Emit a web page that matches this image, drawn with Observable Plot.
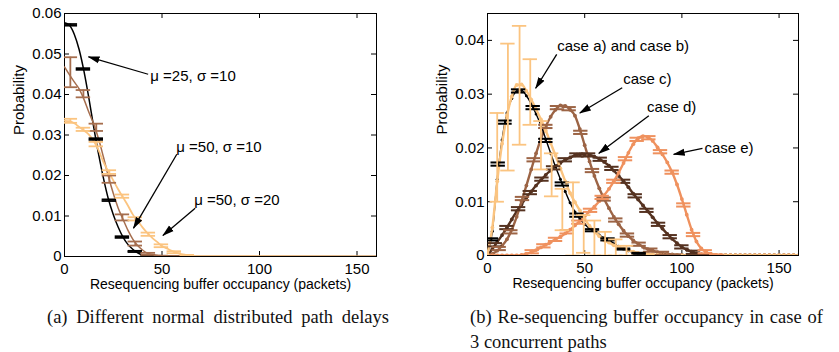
<!DOCTYPE html>
<html><head><meta charset="utf-8">
<script src="https://cdn.jsdelivr.net/npm/d3@7"></script>
<script src="https://cdn.jsdelivr.net/npm/@observablehq/plot@0.6"></script>
<style>
body{margin:0;background:#fff;}
#wrap{position:relative;width:839px;height:352px;overflow:hidden;background:#fff;}
#left{position:absolute;left:0;top:0;}
#right{position:absolute;left:420px;top:0;}
.cap{position:absolute;font-family:"Liberation Serif","Times New Roman",serif;font-size:18.5px;line-height:22px;color:#111;white-space:nowrap;}
.just{text-align:justify;text-align-last:justify;}
</style>
</head><body>
<div id="wrap">
  <div id="left"></div>
  <div id="right"></div>
  <div class="cap just" style="left:47px;top:306px;width:342px;">(a) Different normal distributed path delays</div>
  <div class="cap just" style="left:470px;top:306px;width:353px;">(b) Re-sequencing buffer occupancy in case of</div>
  <div class="cap" style="left:470px;top:331px;">3 concurrent paths</div>
</div>
<script>
// ---------- shared axis text ----------
const xTicks = [0, 50, 100, 150];
const xTickLabels = ["0", "50", "100", "150"];
const leftYTicks = [0, 0.01, 0.02, 0.03, 0.04, 0.05, 0.06];
const leftYTickLabels = ["0", "0.01", "0.02", "0.03", "0.04", "0.05", "0.06"];
const rightYTicks = [0, 0.01, 0.02, 0.03, 0.04];
const rightYTickLabels = ["0", "0.01", "0.02", "0.03", "0.04"];
const xLabel = "Resequencing buffer occupancy (packets)";
const yLabel = "Probability";

// ---------- panel (a) ----------
const leftX = [0,2.5,5,7.5,10,12.5,15,17.5,20,22.5,25,27.5,30,32.5,35,37.5,40,42.5,45,47.5,50,52.5,55,57.5,60,62.5,65,67.5,70,160];
const leftMu25s10 = [0.0577,0.0571,0.0549,0.0511,0.0457,0.0391,0.0319,0.0252,0.0193,0.0142,0.0104,0.0073,0.0048,0.0030,0.0018,0.0009,0.0004,0.0002,0.0001,0,0,0,0,0,0,0,0,0,0,0];
const leftMu50s10 = [0.0468,0.0449,0.0431,0.0414,0.0388,0.0356,0.0327,0.0290,0.0245,0.0198,0.0156,0.0120,0.0092,0.0065,0.0043,0.0027,0.0016,0.0008,0.0005,0.0003,0.0002,0.0001,0,0,0,0,0,0,0,0];
const leftMu50s20 = [0.0335,0.0334,0.0329,0.0320,0.0311,0.0301,0.0285,0.0262,0.0233,0.0210,0.0188,0.0166,0.0146,0.0126,0.0104,0.0088,0.0072,0.0058,0.0046,0.0036,0.0026,0.0020,0.0014,0.0009,0.0006,0.0004,0.0002,0.0001,0.0001,0];

const leftBarX = [3, 9.7, 16.3, 23, 29.7, 36.3, 43, 49.7, 56.3, 63];
const leftMu25s10Lo = [0.0570,0.0461,0.0288,0.0137,0.0046,0.0011,0.0002,0.0000,0,0];
const leftMu25s10Hi = [0.0574,0.0465,0.0292,0.0141,0.0050,0.0014,0.0003,0.0001,0,0];
const leftMu50s10Lo = [0.0418,0.0393,0.0310,0.0182,0.0089,0.0027,0.0004,0.0000,0,0];
const leftMu50s10Hi = [0.0492,0.0411,0.0328,0.0200,0.0104,0.0037,0.0009,0.0002,0.0001,0];
const leftMu50s20Lo = [0.0330,0.0310,0.0272,0.0204,0.0145,0.0089,0.0051,0.0023,0.0008,0.0002];
const leftMu50s20Hi = [0.0340,0.0318,0.0283,0.0213,0.0153,0.0097,0.0059,0.0030,0.0013,0.0004];

const leftNoteText = ["\u03bc =25, \u03c3 =10", "\u03bc =50, \u03c3 =10", "\u03bc =50, \u03c3 =20"];
const leftNoteX = [44, 57.3, 66.5];
const leftNoteY = [0.0446, 0.0270, 0.0139];
const leftArrowFrom = [[42.9, 0.0450], [57.6, 0.02525], [67, 0.0119]];
const leftArrowTo = [[12.3, 0.0493], [35.4, 0.0070], [50.5, 0.0052]];

// ---------- panel (b) ----------
const rightX = [0,2.5,5,7.5,10,12.5,15,17.5,20,22.5,25,27.5,30,32.5,35,37.5,40,42.5,45,47.5,50,52.5,55,57.5,60,62.5,65,67.5,70,72.5,75,77.5,80,82.5,85,87.5,90,92.5,95,97.5,100,102.5,105,107.5,110,112.5,115,117.5,120,122.5,125,127.5,130,132.5,135,137.5,140,142.5,145,147.5,150,152.5,155,157.5,160];
const caseA = [0.0003,0.0045,0.0142,0.0215,0.0265,0.0292,0.0305,0.0307,0.0297,0.0282,0.0263,0.0242,0.0216,0.0190,0.0165,0.0142,0.0119,0.0098,0.0081,0.0068,0.0058,0.0050,0.0044,0.0038,0.0033,0.0029,0.0022,0.0017,0.0012,0.0009,0.0006,0.0004,0.0003,0.0002,0.0002,0.0001,0.0001,0,0,0,0,0,0,0,0,0,0,0,0,0,0,0,0,0,0,0,0,0,0,0,0,0,0,0,0];
const caseB = [0.0003,0.0052,0.0138,0.0208,0.0260,0.0296,0.0317,0.0318,0.0306,0.0290,0.0272,0.0253,0.0232,0.0209,0.0186,0.0162,0.0138,0.0116,0.0099,0.0084,0.0068,0.0055,0.0045,0.0036,0.0028,0.0024,0.0019,0.0016,0.0013,0.0010,0.0007,0.0005,0.0004,0.0003,0.0002,0.0001,0.0001,0,0,0,0,0,0,0,0,0,0,0,0,0,0,0,0,0,0,0,0,0,0,0,0,0,0,0,0];
const caseC = [0,0.0003,0.0009,0.0018,0.0030,0.0048,0.0072,0.0100,0.0130,0.0160,0.0190,0.0217,0.0240,0.0258,0.0271,0.0279,0.0278,0.0271,0.0260,0.0235,0.0205,0.0175,0.0148,0.0125,0.0105,0.0088,0.0072,0.0058,0.0046,0.0036,0.0028,0.0022,0.0016,0.0012,0.0009,0.0006,0.0004,0.0003,0.0002,0.0001,0.0001,0,0,0,0,0,0,0,0,0,0,0,0,0,0,0,0,0,0,0,0,0,0,0,0];
const caseD = [0,0.0012,0.0025,0.0038,0.0052,0.0067,0.0082,0.0095,0.0108,0.0119,0.0130,0.0140,0.0150,0.0158,0.0166,0.0172,0.0178,0.0182,0.0186,0.0188,0.0188,0.0187,0.0184,0.0180,0.0174,0.0167,0.0158,0.0148,0.0138,0.0127,0.0115,0.0104,0.0093,0.0082,0.0071,0.0060,0.0050,0.0040,0.0031,0.0023,0.0016,0.0011,0.0007,0.0004,0.0002,0.0001,0,0,0,0,0,0,0,0,0,0,0,0,0,0,0,0,0,0,0];
const caseE = [0,0,0,0,0,0,0,0.0001,0.0003,0.0006,0.0010,0.0015,0.0020,0.0025,0.0030,0.0035,0.0041,0.0048,0.0056,0.0064,0.0073,0.0082,0.0091,0.0101,0.0112,0.0124,0.0138,0.0154,0.0172,0.0191,0.0207,0.0218,0.0222,0.0220,0.0213,0.0201,0.0188,0.0173,0.0155,0.0132,0.0105,0.0076,0.0048,0.0026,0.0013,0.0006,0.0003,0.0001,0,0,0,0,0,0,0,0,0,0,0,0,0,0,0,0,0];

const caseABarX = [2, 5.5, 9, 16, 23.5, 30, 38.5, 46, 54, 62, 70, 78];
const caseABarLo = [0.0028,0.0167,0.0245,0.0303,0.0272,0.0211,0.0130,0.0072,0.0045,0.0028,0.0011,0.0003];
const caseABarHi = [0.0032,0.0173,0.0251,0.0309,0.0278,0.0217,0.0136,0.0078,0.0049,0.0032,0.0013,0.0005];
const caseBBarX = [5, 10.5, 16.5, 22, 27.5, 33, 38.5, 44, 49.5, 55, 60.5, 66, 71.5];
const caseBBarLo = [0.0100,0.0158,0.0206,0.0243,0.0160,0.0110,0.0047,0.0000,0.0005,0.0000,0.0000,0.0000,0.0000];
const caseBBarHi = [0.0265,0.0394,0.0427,0.0365,0.0250,0.0190,0.0124,0.0136,0.0075,0.0065,0.0044,0.0030,0.0018];
const caseCBarX = [6,12,18,24,30,36,42,48,54,60,66,72,78,84,90,96];
const caseCBarLo = [0.0010,0.0041,0.0103,0.0175,0.0237,0.0272,0.0270,0.0226,0.0155,0.0102,0.0063,0.0035,0.0018,0.0007,0.0001,0.0000];
const caseCBarHi = [0.0016,0.0047,0.0109,0.0181,0.0243,0.0278,0.0276,0.0232,0.0161,0.0108,0.0069,0.0041,0.0024,0.0013,0.0007,0.0002];
const caseDBarX = [4,10,16,22,28,34,40,46,52,58,64,70,76,82,88,94,100,106,112];
const caseDBarLo = [0.0017,0.0049,0.0084,0.0114,0.0139,0.0160,0.0175,0.0184,0.0184,0.0176,0.0159,0.0135,0.0108,0.0081,0.0055,0.0032,0.0013,0.0003,0.0000];
const caseDBarHi = [0.0023,0.0055,0.0090,0.0120,0.0145,0.0166,0.0181,0.0190,0.0190,0.0182,0.0165,0.0141,0.0114,0.0087,0.0061,0.0038,0.0019,0.0009,0.0002];
const caseEBarX = [23,29,35,41,47,53,59,65,71,77,83,89,95,101,106,112,118];
const caseEBarLo = [0.0004,0.0015,0.0027,0.0041,0.0059,0.0081,0.0105,0.0135,0.0177,0.0213,0.0216,0.0190,0.0152,0.0091,0.0036,0.0004,0.0000];
const caseEBarHi = [0.0010,0.0021,0.0033,0.0047,0.0065,0.0087,0.0111,0.0141,0.0183,0.0219,0.0222,0.0196,0.0158,0.0097,0.0042,0.0010,0.0002];

const rightNoteText = ["case a) and case b)", "case c)", "case d)", "case e)"];
const rightNoteX = [35.9, 69.8, 82.1, 111.6];
const rightNoteY = [0.0389, 0.0328, 0.0275, 0.0200];
const rightArrowFrom = [[35.6, 0.0374], [69.3, 0.0312], [83, 0.0260], [110.6, 0.0199]];
const rightArrowTo = [[24.8, 0.0311], [47.5, 0.0265], [57.3, 0.0190], [95.8, 0.0188]];

// ---------- colours ----------
const cBlack = "#000000";
const cBrownL = "#a66e4e";
const cPale = "#fbc480";
const cBrownC = "#9c6445";
const cDark = "#553220";
const cSalmon = "#ef915e";

// ---------- helpers ----------
const FONT = "'Liberation Sans', Arial, Helvetica, sans-serif";
function series(xs, ys) { return xs.map((x, i) => ({x, y: ys[i]})); }
function bars(xs, lo, hi, color, hw, sw) {
  const rows = xs.map((x, i) => ({x, lo: lo[i], hi: hi[i]}));
  return [
    Plot.ruleX(rows, {x: "x", y1: "lo", y2: "hi", stroke: color, strokeWidth: sw, clip: true}),
    Plot.ruleY(rows, {y: "lo", x1: d => d.x - hw, x2: d => d.x + hw, stroke: color, strokeWidth: sw, clip: true}),
    Plot.ruleY(rows, {y: "hi", x1: d => d.x - hw, x2: d => d.x + hw, stroke: color, strokeWidth: sw, clip: true})
  ];
}
function notes(texts, xs, ys, from, to) {
  const rows = texts.map((t, i) => ({t, x: xs[i], y: ys[i], x1: from[i][0], y1: from[i][1], x2: to[i][0], y2: to[i][1]}));
  return [
    Plot.link(rows, {x1: "x1", y1: "y1", x2: "x2", y2: "y2", stroke: "black", strokeWidth: 1.3, markerEnd: "arrow"}),
    Plot.text(rows, {x: "x", y: "y", text: "t", textAnchor: "start", lineAnchor: "middle", fontSize: 15, fill: "black"})
  ];
}
function frameAndAxes(yTicks, yLabels, iw, ih) {
  return [
    Plot.frame({stroke: "black", strokeWidth: 1}),
    Plot.tickX(xTicks, {x: d => d, insetTop: ih - 5, stroke: "black"}),
    Plot.tickX(xTicks, {x: d => d, insetBottom: ih - 5, stroke: "black"}),
    Plot.tickY(yTicks, {y: d => d, insetRight: iw - 5, stroke: "black"}),
    Plot.tickY(yTicks, {y: d => d, insetLeft: iw - 5, stroke: "black"}),
    Plot.axisX({ticks: xTicks, tickSize: 0, tickPadding: 7, fontSize: 15, label: null,
      tickFormat: d => xTickLabels[xTicks.indexOf(d)]}),
    Plot.axisY({ticks: yTicks, tickSize: 0, tickPadding: 3, fontSize: 15, label: null,
      tickFormat: d => yLabels[yTicks.indexOf(d)]}),
    Plot.text([xLabel], {text: d => d, frameAnchor: "bottom", dy: 28, fontSize: 14, lineAnchor: "middle"}),
    Plot.text([yLabel], {text: d => d, frameAnchor: "left", dx: -45, rotate: -90, fontSize: 15, lineAnchor: "middle"})
  ];
}
function fixMarkers(svg) {
  svg.querySelectorAll("marker").forEach(m => {
    const s = d3.select(m);
    s.attr("viewBox", "-11 -5 12 10").attr("markerUnits", "userSpaceOnUse")
     .attr("markerWidth", 12).attr("markerHeight", 10)
     .attr("fill", "black").attr("stroke", "none");
    s.selectAll("*").remove();
    s.append("path").attr("d", "M-11,-3.6L1,0L-11,3.6Z");
  });
}

// ---------- panel (a) ----------
const LW = 420, LH = 300, LML = 64, LMR = 44, LMT = 13, LMB = 44;
const leftPlot = Plot.plot({
  width: LW, height: LH,
  marginLeft: LML, marginRight: LMR, marginTop: LMT, marginBottom: LMB,
  x: {domain: [0, 160], axis: null},
  y: {domain: [0, 0.06], axis: null},
  style: {fontFamily: FONT, fontSize: "15px", color: "black", background: "transparent", overflow: "visible"},
  marks: [
    ...frameAndAxes(leftYTicks, leftYTickLabels, LW - LML - LMR, LH - LMT - LMB),
    Plot.line(series(leftX, leftMu25s10), {x: "x", y: "y", stroke: cBlack, strokeWidth: 1.5, curve: "monotone-x", clip: true}),
    Plot.line(series(leftX, leftMu50s10), {x: "x", y: "y", stroke: cBrownL, strokeWidth: 1.5, curve: "monotone-x", clip: true}),
    Plot.line(series(leftX, leftMu50s20), {x: "x", y: "y", stroke: cPale, strokeWidth: 1.8, curve: "monotone-x", clip: true}),
    ...bars(leftBarX, leftMu25s10Lo, leftMu25s10Hi, cBlack, 3.7, 1.8),
    ...bars(leftBarX, leftMu50s10Lo, leftMu50s10Hi, cBrownL, 3.7, 1.8),
    ...bars(leftBarX, leftMu50s20Lo, leftMu50s20Hi, cPale, 3.7, 1.8),
    ...notes(leftNoteText, leftNoteX, leftNoteY, leftArrowFrom, leftArrowTo)
  ]
});
fixMarkers(leftPlot);
document.getElementById("left").append(leftPlot);

// ---------- panel (b) ----------
const RW = 419, RH = 300, RML = 67, RMR = 41, RMT = 13, RMB = 45;
const dotR = 1.9;
const rightPlot = Plot.plot({
  width: RW, height: RH,
  marginLeft: RML, marginRight: RMR, marginTop: RMT, marginBottom: RMB,
  x: {domain: [0, 160], axis: null},
  y: {domain: [0, 0.045], axis: null},
  style: {fontFamily: FONT, fontSize: "15px", color: "black", background: "transparent", overflow: "visible"},
  marks: [
    ...frameAndAxes(rightYTicks, rightYTickLabels, RW - RML - RMR, RH - RMT - RMB),
    Plot.line(series(rightX, caseD), {x: "x", y: "y", stroke: cDark, strokeWidth: 2.4, curve: "monotone-x", clip: true}),
    Plot.dot(series(rightX, caseD), {x: "x", y: "y", r: dotR, fill: cDark, clip: true}),
    Plot.line(series(rightX, caseC), {x: "x", y: "y", stroke: cBrownC, strokeWidth: 2.4, curve: "monotone-x", clip: true}),
    Plot.dot(series(rightX, caseC), {x: "x", y: "y", r: dotR, fill: cBrownC, clip: true}),
    Plot.line(series(rightX, caseE), {x: "x", y: "y", stroke: cSalmon, strokeWidth: 2.4, curve: "monotone-x", clip: true}),
    Plot.dot(series(rightX, caseE), {x: "x", y: "y", r: dotR, fill: cSalmon, clip: true}),
    Plot.line(series(rightX, caseA), {x: "x", y: "y", stroke: cBlack, strokeWidth: 1.4, curve: "monotone-x", clip: true}),
    Plot.dot(series(rightX, caseA), {x: "x", y: "y", r: 1.5, fill: cBlack, clip: true}),
    Plot.line(series(rightX, caseB), {x: "x", y: "y", stroke: cPale, strokeWidth: 2.4, curve: "monotone-x", clip: true}),
    Plot.dot(series(rightX, caseB), {x: "x", y: "y", r: dotR, fill: cPale, clip: true}),
    ...bars(caseDBarX, caseDBarLo, caseDBarHi, cDark, 3.7, 2),
    ...bars(caseCBarX, caseCBarLo, caseCBarHi, cBrownC, 3.7, 2),
    ...bars(caseEBarX, caseEBarLo, caseEBarHi, cSalmon, 3.7, 2),
    ...bars(caseABarX, caseABarLo, caseABarHi, cBlack, 3.7, 2),
    ...bars(caseBBarX, caseBBarLo, caseBBarHi, cPale, 3.7, 1.8),
    ...notes(rightNoteText, rightNoteX, rightNoteY, rightArrowFrom, rightArrowTo)
  ]
});
fixMarkers(rightPlot);
document.getElementById("right").append(rightPlot);
</script>
</body></html>
